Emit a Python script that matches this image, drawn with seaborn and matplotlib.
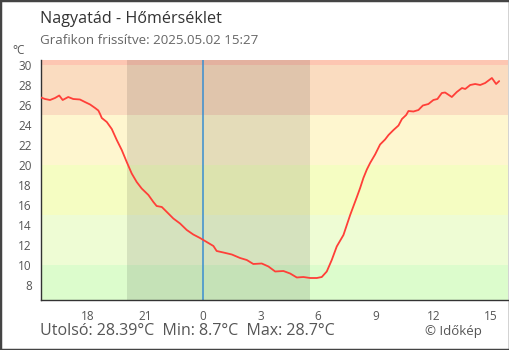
import matplotlib
matplotlib.use("Agg")
import matplotlib.pyplot as plt
import seaborn as sns
import pandas as pd
from matplotlib.patches import Rectangle

# hours relative to midnight (negative = previous day)
hours = [-8.45, -8.24, -7.98, -7.72, -7.50, -7.32, -7.03, -6.77, -6.42, -6.16,
         -5.89, -5.63, -5.46, -5.37, -5.28, -5.02, -4.76, -4.50, -4.24, -3.98,
         -3.72, -3.46, -3.20, -2.85, -2.59, -2.42, -2.15, -1.81, -1.55, -1.20,
         -0.85, -0.51, -0.16, 0.19, 0.54, 0.71, 1.06, 1.50, 1.93, 2.28,
         2.62, 3.06, 3.41, 3.76, 4.19, 4.54, 4.89, 5.23, 5.58, 5.93,
         6.19, 6.45, 6.71, 6.97, 7.32, 7.67, 8.02, 8.19, 8.36, 8.54,
         8.71, 8.97, 9.23, 9.49, 9.67, 9.93, 10.19, 10.37, 10.59, 10.71,
         10.97, 11.23, 11.46, 11.75, 12.01, 12.22, 12.45, 12.62, 12.97, 13.23,
         13.50, 13.67, 13.93, 14.19, 14.45, 14.71, 15.06, 15.28, 15.44]
temps = [26.75, 26.6, 26.5, 26.7, 26.95, 26.5, 26.8, 26.6, 26.55, 26.3,
         26.05, 25.7, 25.45, 25.1, 24.7, 24.3, 23.6, 22.5, 21.5, 20.3,
         19.15, 18.3, 17.65, 17.0, 16.3, 15.9, 15.8, 15.15, 14.65, 14.15,
         13.5, 13.05, 12.7, 12.3, 11.9, 11.4, 11.25, 11.05, 10.7, 10.5,
         10.1, 10.15, 9.85, 9.35, 9.4, 9.15, 8.75, 8.8, 8.7, 8.7,
         8.8, 9.35, 10.5, 11.85, 13.0, 15.0, 16.8, 17.7, 18.7, 19.55,
         20.2, 21.05, 22.05, 22.55, 23.0, 23.5, 23.95, 24.6, 25.0, 25.4,
         25.35, 25.5, 25.95, 26.1, 26.5, 26.6, 27.2, 27.25, 26.8, 27.3,
         27.7, 27.6, 28.0, 28.1, 28.0, 28.2, 28.7, 28.1, 28.39]

x_ticks = [-6, -3, 0, 3, 6, 9, 12, 15]
x_labels = ["18", "21", "0", "3", "6", "9", "12", "15"]
y_ticks = [8, 10, 12, 14, 16, 18, 20, 22, 24, 26, 28, 30]

band_edges = [6.5, 10, 15, 20, 25, 30, 30.5]
band_colors = ["#dcfccc", "#eefcd4", "#f5fdc2", "#fef6cf", "#fadcc0", "#fdc6b2"]
night = (-3.98, 5.58)

title = "Nagyatád - Hőmérséklet"
subtitle = "Grafikon frissítve: 2025.05.02 15:27"
footer = "Utolsó: 28.39°C  Min: 8.7°C  Max: 28.7°C"
credit = "© Időkép"

sns.set_style("white")
plt.rcParams["font.family"] = ["Open Sans", "DejaVu Sans"]

fig = plt.figure(figsize=(5.1, 3.5), dpi=100)
ax = fig.add_axes([41 / 510, 50 / 350, 467 / 510, 240 / 350])

XMIN, XMAX = -8.45, 15.9
for lo, hi, c in zip(band_edges[:-1], band_edges[1:], band_colors):
    ax.axhspan(lo, hi, color=c, lw=0, zorder=0)
ax.axvspan(night[0], night[1], color="black", alpha=0.1, lw=0, zorder=1)
ax.axvline(0, color="#3a8ed0", lw=1.1, zorder=2)

df = pd.DataFrame({"h": hours, "t": temps})
sns.lineplot(data=df, x="h", y="t", ax=ax, color="#ff3f38", lw=1.3, zorder=3)

ax.set_xlim(XMIN, XMAX)
ax.set_ylim(6.5, 30.5)
ax.set_xticks(x_ticks)
ax.set_xticklabels(x_labels)
ax.set_yticks(y_ticks)
ax.set_xlabel("")
ax.set_ylabel("")
for s in ["top", "right"]:
    ax.spines[s].set_visible(False)
for s in ["left", "bottom"]:
    ax.spines[s].set_color("#333333")
    ax.spines[s].set_linewidth(1.0)
ax.tick_params(axis="y", direction="inout", length=9.5, width=1, color="#333333",
               labelsize=8.5, labelcolor="#555555", pad=2)
ax.tick_params(axis="x", direction="inout", length=8, width=1, color="#333333",
               labelsize=8.5, labelcolor="#555555", pad=3)
ax.grid(False)

fig.text(40 / 510, 1 - 19 / 350, title, fontsize=11.6, color="#333333", va="center", ha="left")
fig.text(40 / 510, 1 - 41 / 350, subtitle, fontsize=9.6, color="#666666", va="center", ha="left")
fig.text(19 / 510, 1 - 51 / 350, "°C", fontsize=8.5, color="#555555", va="center", ha="center")
fig.text(40 / 510, 1 - 331 / 350, footer, fontsize=11.5, color="#555555", va="center", ha="left")
fig.text(425 / 510, 1 - 331 / 350, credit, fontsize=9.5, color="#555555", va="center", ha="left")

fig.patches.append(Rectangle((0, 0), 1, 1, transform=fig.transFigure, fill=False,
                             edgecolor="#444444", lw=2.5, zorder=10))

fig.savefig("out.png", dpi=100)
